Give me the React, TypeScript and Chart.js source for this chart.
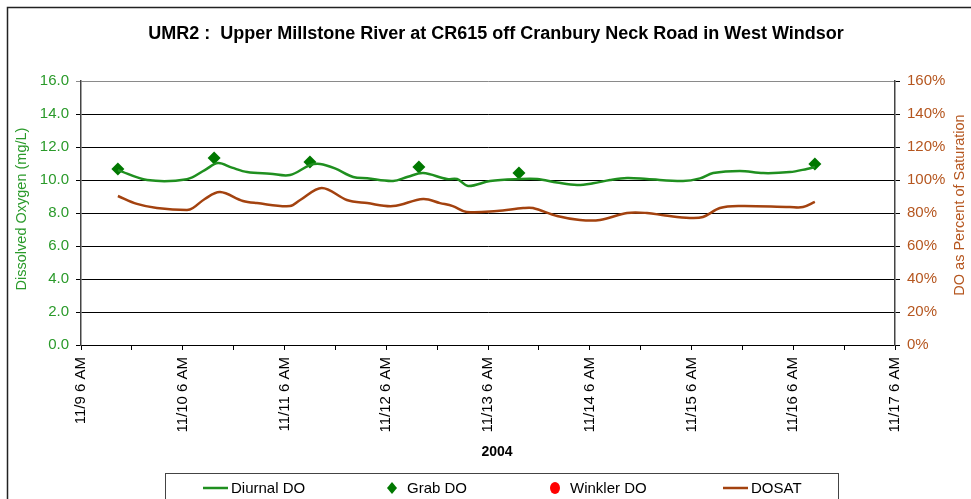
import React, { useEffect, useRef } from "react";
import { Chart, registerables } from "chart.js";

Chart.register(...registerables);

// Hours since 11/9 00:00 (2004)
const diurnalHours = [14.7, 21.6, 31.0, 35.2, 38.3, 41.6, 45.2, 50.6, 55.3, 60.0, 62.4, 65.9, 70.2, 73.5, 79.6, 83.1, 86.7, 92.3, 94.7, 97.3, 102.5, 109.5, 113.6, 118.3, 123.0, 126.8, 130.8, 134.8, 139.5, 148.0, 152.0, 155.1, 161.4, 166.9, 173.2, 177.2, 179.1];
const diurnalDO = [10.6, 10.0, 10.05, 10.6, 11.03, 10.75, 10.48, 10.38, 10.3, 10.9, 10.97, 10.7, 10.18, 10.1, 9.94, 10.2, 10.42, 10.06, 10.06, 9.64, 9.94, 10.06, 10.06, 9.85, 9.7, 9.8, 10.0, 10.12, 10.06, 9.94, 10.1, 10.42, 10.55, 10.42, 10.48, 10.67, 10.79];

const grabHours = [14.7, 37.4, 60.0, 85.7, 109.3, 179.1];
const grabDO = [10.67, 11.33, 11.09, 10.79, 10.42, 10.97];

const winklerHours: number[] = [];
const winklerDO: number[] = [];

const dosatHours = [14.7, 19.2, 23.9, 31.0, 32.4, 35.2, 38.8, 44.2, 47.5, 55.3, 57.7, 62.8, 68.7, 73.5, 79.6, 86.7, 90.7, 93.7, 97.0, 104.1, 110.3, 112.6, 118.3, 123.7, 128.4, 134.8, 139.5, 143.8, 149.6, 152.7, 156.7, 161.4, 173.2, 176.3, 179.1];
const dosat = [90.3, 85.5, 83, 81.8, 83, 88.5, 92.7, 87.3, 86, 84.2, 87.9, 95.2, 87.9, 86, 84.2, 88.5, 86, 84.2, 80.6, 81.2, 83, 83, 78.2, 75.8, 75.8, 80, 80, 78.5, 77, 77.6, 83, 84.2, 83.6, 83.6, 86.7];

const xMin = 6;
const xMax = 198;
const xLabels = ["11/9 6 AM", "11/10 6 AM", "11/11 6 AM", "11/12 6 AM", "11/13 6 AM", "11/14 6 AM", "11/15 6 AM", "11/16 6 AM", "11/17 6 AM"];

const titleText = "UMR2 :  Upper Millstone River at CR615 off Cranbury Neck Road in West Windsor";
const xTitle = "2004";
const yTitle = "Dissolved Oxygen (mg/L)";
const y1Title = "DO as Percent of Saturation";

const FONT = "'Liberation Sans', Arial, sans-serif";
const GREEN_LINE = "#1f8f1f";
const GREEN_MARK = "#007800";
const GREEN_TEXT = "#2a9a2a";
const BROWN = "#a3420f";
const BROWN_TEXT = "#b5561f";

const zip = (xs: number[], ys: number[]) => xs.map((x, i) => ({ x, y: ys[i] }));

const decorPlugin = {
  id: "decor",
  afterDraw(chart: any) {
    const ctx = chart.ctx as CanvasRenderingContext2D;
    ctx.save();
    // outer frame
    ctx.strokeStyle = "#222";
    ctx.lineWidth = 1.5;
    ctx.strokeRect(7.5, 7.5, 990, 520);
    // title
    ctx.fillStyle = "#000";
    ctx.font = `bold 18px ${FONT}`;
    ctx.textAlign = "center";
    ctx.textBaseline = "middle";
    ctx.fillText(titleText, 496, 34);
    // x title
    ctx.font = `bold 14px ${FONT}`;
    ctx.fillText(xTitle, 497, 452);
    // y titles
    ctx.font = `14.5px ${FONT}`;
    ctx.fillStyle = GREEN_TEXT;
    ctx.save();
    ctx.translate(22, 209);
    ctx.rotate(-Math.PI / 2);
    ctx.fillText(yTitle, 0, 0);
    ctx.restore();
    ctx.fillStyle = BROWN_TEXT;
    ctx.save();
    ctx.translate(960, 205);
    ctx.rotate(-Math.PI / 2);
    ctx.fillText(y1Title, 0, 0);
    ctx.restore();
    // legend box
    ctx.strokeStyle = "#444";
    ctx.lineWidth = 1;
    ctx.strokeRect(165.5, 473.5, 673, 60);
    const itemX = [203, 392, 555, 723];
    const ly = 488;
    ctx.font = `15px ${FONT}`;
    ctx.textAlign = "left";
    ctx.fillStyle = "#000";
    chart.data.datasets.forEach((ds: any, i: number) => {
      const x = itemX[i];
      if (ds.showLine !== false) {
        ctx.strokeStyle = ds.borderColor;
        ctx.lineWidth = 2.5;
        ctx.beginPath();
        ctx.moveTo(x, ly);
        ctx.lineTo(x + 25, ly);
        ctx.stroke();
        ctx.fillStyle = "#000";
        ctx.fillText(ds.label, x + 28, ly + 1);
      } else {
        ctx.fillStyle = ds.backgroundColor;
        ctx.beginPath();
        if (ds.pointStyle === "rectRot") {
          ctx.moveTo(x, ly - 6);
          ctx.lineTo(x + 5, ly);
          ctx.lineTo(x, ly + 6);
          ctx.lineTo(x - 5, ly);
          ctx.closePath();
        } else {
          ctx.ellipse(x, ly, 5, 6, 0, 0, Math.PI * 2);
        }
        ctx.fill();
        ctx.fillStyle = "#000";
        ctx.fillText(ds.label, x + 15, ly + 1);
      }
    });
    ctx.restore();
  },
};

export default function App() {
  const ref = useRef<HTMLCanvasElement>(null);
  useEffect(() => {
    if (!ref.current) return;
    const chart = new Chart(ref.current, {
      type: "line",
      data: {
        datasets: [
          {
            label: "Diurnal DO",
            data: zip(diurnalHours, diurnalDO),
            borderColor: GREEN_LINE,
            backgroundColor: GREEN_LINE,
            borderWidth: 2.5,
            pointRadius: 0,
            tension: 0.35,
            yAxisID: "y",
          },
          {
            label: "Grab DO",
            data: zip(grabHours, grabDO),
            showLine: false,
            pointStyle: "rectRot",
            pointRadius: 6.5,
            backgroundColor: GREEN_MARK,
            borderColor: GREEN_MARK,
            borderWidth: 0,
            yAxisID: "y",
          },
          {
            label: "Winkler DO",
            data: zip(winklerHours, winklerDO),
            showLine: false,
            pointStyle: "circle",
            pointRadius: 5,
            backgroundColor: "#ff0000",
            borderColor: "#ff0000",
            yAxisID: "y",
          },
          {
            label: "DOSAT",
            data: zip(dosatHours, dosat),
            borderColor: BROWN,
            backgroundColor: BROWN,
            borderWidth: 2.5,
            pointRadius: 0,
            tension: 0.35,
            yAxisID: "y1",
          },
        ] as any,
      },
      options: {
        animation: false,
        responsive: false,
        layout: { padding: { top: 81, left: 0, right: 0, bottom: 0 } },
        plugins: { legend: { display: false }, title: { display: false }, tooltip: { enabled: false } },
        scales: {
          x: {
            type: "linear",
            min: xMin,
            max: xMax,
            afterFit: (s: any) => { s.height = 154; },
            afterBuildTicks: (s: any) => {
              const t = [];
              for (let v = xMin; v <= xMax; v += 12) t.push({ value: v });
              s.ticks = t;
            },
            ticks: {
              autoSkip: false,
              maxRotation: 90,
              minRotation: 90,
              padding: 7,
              color: "#000",
              font: { family: FONT, size: 15 },
              callback: (v: any) => {
                const d = (Number(v) - xMin) / 24;
                return Number.isInteger(d) ? xLabels[d] : "";
              },
            },
            grid: { drawOnChartArea: false, drawTicks: true, tickLength: 5, color: "#000" },
            border: { display: true, color: "#000", width: 1 },
          },
          y: {
            type: "linear",
            position: "left",
            min: 0,
            max: 16,
            afterFit: (s: any) => { s.width = 81; },
            ticks: {
              stepSize: 2,
              padding: 7,
              color: GREEN_TEXT,
              font: { family: FONT, size: 15 },
              callback: (v: any) => Number(v).toFixed(1),
            },
            grid: {
              drawTicks: true,
              tickLength: 5,
              color: (c: any) => (c.tick && c.tick.value === 16 ? "#8a8a8a" : "#000"),
              lineWidth: 1,
            },
            border: { display: true, color: "#444", width: 1.5 },
          },
          y1: {
            type: "linear",
            position: "right",
            min: 0,
            max: 160,
            afterFit: (s: any) => { s.width = 76; },
            ticks: {
              stepSize: 20,
              padding: 7,
              color: BROWN_TEXT,
              font: { family: FONT, size: 15 },
              callback: (v: any) => `${v}%`,
            },
            grid: { drawOnChartArea: false, drawTicks: true, tickLength: 5, color: "#000" },
            border: { display: true, color: "#444", width: 1.5 },
          },
        },
      } as any,
      plugins: [decorPlugin],
    });
    return () => chart.destroy();
  }, []);
  return (
    <div style={{ position: "absolute", left: 0, top: 0, width: 971, height: 499, background: "#fff" }}>
      <canvas ref={ref} width={971} height={499} style={{ width: 971, height: 499, display: "block" }} />
    </div>
  );
}
